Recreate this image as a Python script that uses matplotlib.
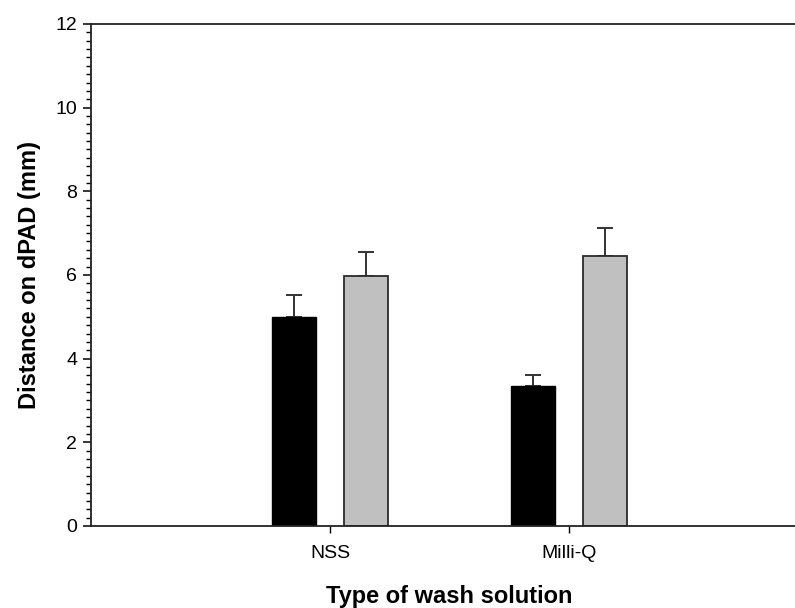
import numpy as np
import matplotlib.pyplot as plt
from matplotlib.ticker import MultipleLocator

# wash solutions and measured distances (mean, sd) for the two conditions
solutions = ["NSS", "Milli-Q"]
dark_mean = [5.00, 3.35]
dark_sd = [0.51, 0.26]
light_mean = [5.97, 6.46]
light_sd = [0.59, 0.66]

plt.rcParams["font.family"] = ["Liberation Sans", "DejaVu Sans"]

fig = plt.figure(figsize=(7.95, 6.08), dpi=100)
ax = fig.add_axes([0.1145, 0.1349, 0.902, 0.8257])

x = np.arange(1, len(solutions) + 1)
width = 0.184
offset = 0.152

ax.bar(x - offset, dark_mean, width, color="black", edgecolor="black",
       linewidth=1.0, zorder=2)
ax.bar(x + offset, light_mean, width, color="#c0c0c0", edgecolor="#2b2b2b",
       linewidth=1.3, zorder=2)

# one-sided error bars (upper only)
ekw = dict(fmt="none", ecolor="#333333", elinewidth=1.4, capsize=5.8,
           capthick=1.4, zorder=1)
ax.errorbar(x - offset, dark_mean, yerr=[np.zeros(2), dark_sd], **ekw)
ax.errorbar(x + offset, light_mean, yerr=[np.zeros(2), light_sd], **ekw)

ax.set_xlim(0, 3)
ax.set_ylim(0, 12)
ax.set_xticks(x)
ax.set_xticklabels(solutions, fontsize=14)
ax.yaxis.set_major_locator(MultipleLocator(2))
ax.yaxis.set_minor_locator(MultipleLocator(0.2))
ax.tick_params(axis="y", which="major", direction="out", length=6,
               width=1.1, labelsize=14, pad=4)
ax.tick_params(axis="y", which="minor", direction="out", length=3.5, width=1.0)
ax.tick_params(axis="x", which="major", direction="out", length=5,
               width=1.0, pad=9)

for side in ["left", "bottom", "top"]:
    ax.spines[side].set_linewidth(1.3)
    ax.spines[side].set_color("#222222")
ax.spines["right"].set_visible(False)

ax.set_ylabel("Distance on dPAD (mm)", fontsize=17, fontweight="bold",
              labelpad=10)
ax.set_xlabel("Type of wash solution", fontsize=17, fontweight="bold",
              labelpad=16)

fig.savefig("out.png", dpi=100)
